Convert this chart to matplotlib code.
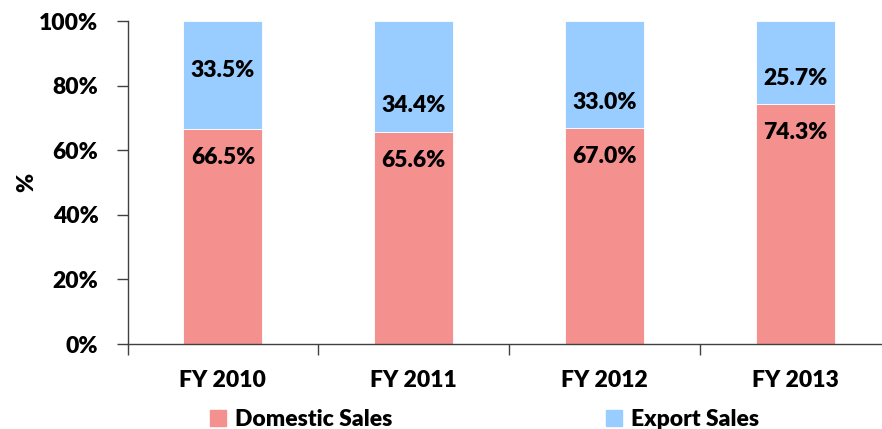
import matplotlib.pyplot as plt
from matplotlib.patches import Patch

years = ["FY 2010", "FY 2011", "FY 2012", "FY 2013"]
domestic = [66.5, 65.6, 67.0, 74.3]
export = [33.5, 34.4, 33.0, 25.7]

# label heights (in %) as placed in the original chart
domestic_label_y = [57.8, 56.7, 58.0, 65.4]
export_label_y = [84.6, 73.8, 74.8, 82.3]

DOM_COLOR = "#F4908E"
EXP_COLOR = "#99CCFF"
FS = 16.5
W = "heavy"

plt.rcParams["font.family"] = ["Lato", "DejaVu Sans"]

fig = plt.figure(figsize=(8.82, 4.29), dpi=100)
ax = fig.add_axes([0.1446, 0.1981, 0.8649, 0.7529])

x = list(range(len(years)))
ax.bar(x, domestic, width=0.414, color=DOM_COLOR, edgecolor="white", linewidth=0.6)
ax.bar(x, export, width=0.414, bottom=domestic, color=EXP_COLOR, edgecolor="white", linewidth=0.6)

for i in x:
    ax.text(i, domestic_label_y[i], f"{domestic[i]:.1f}%", ha="center", va="center",
            fontsize=FS, fontweight=W)
    ax.text(i, export_label_y[i], f"{export[i]:.1f}%", ha="center", va="center",
            fontsize=FS, fontweight=W)

ax.set_xlim(-0.5, len(years) - 0.5)
ax.set_ylim(0, 100)
ax.set_yticks(range(0, 101, 20))
ax.set_yticklabels([f"{v}%" for v in range(0, 101, 20)], fontsize=FS, fontweight=W)
ax.set_xticks(x)
ax.set_xticklabels(years, fontsize=FS, fontweight=W)
ax.set_xticks([-0.5, 0.5, 1.5, 2.5], minor=True)
ax.tick_params(axis="x", which="major", length=0, pad=19)
ax.tick_params(axis="x", which="minor", length=8, width=1, color="#404040", direction="out")
ax.tick_params(axis="y", length=8, width=1, color="#404040", pad=13)
ax.set_ylabel("%", fontsize=FS, fontweight=W)
ax.yaxis.set_label_coords(-0.118, 0.5)

for side in ["top", "right"]:
    ax.spines[side].set_visible(False)
for side in ["left", "bottom"]:
    ax.spines[side].set_color("#404040")
    ax.spines[side].set_linewidth(1)

handles = [Patch(color=DOM_COLOR, label="Domestic Sales"),
           Patch(color=EXP_COLOR, label="Export Sales")]
fig.legend(handles=handles, loc="lower left", bbox_to_anchor=(0.215, -0.05), ncol=2,
           prop={"size": FS, "weight": W}, frameon=False, handlelength=0.7, handleheight=0.7,
           handletextpad=0.4, columnspacing=9.3)

fig.savefig("out.png", dpi=100)
